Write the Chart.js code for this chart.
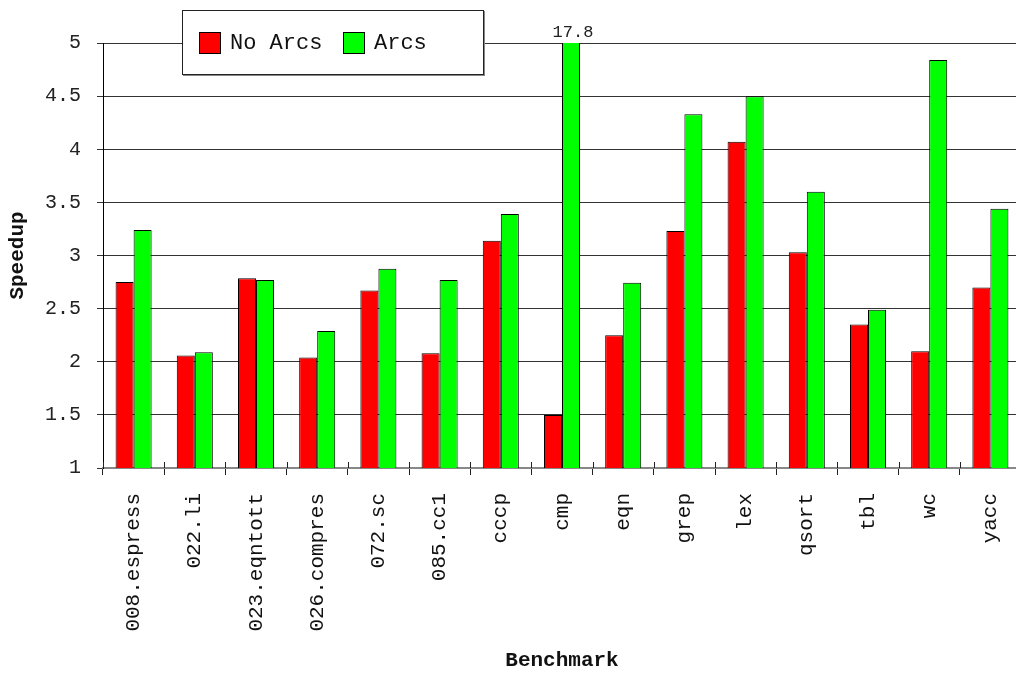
<!DOCTYPE html>
<html>
<head>
<meta charset="utf-8">
<script src="https://cdn.jsdelivr.net/npm/chart.js@4/dist/chart.umd.min.js"></script>
<style>
  html, body { margin: 0; padding: 0; background: #fff; overflow: hidden; width: 1016px; height: 673px; }
  #wrap { position: relative; width: 1021px; height: 673px; }
  #legend { position: absolute; left: 182px; top: 10px; width: 300px; height: 63px; background: #fff;
            border: 1px solid #222; box-shadow: 1px 1px 0 #888; font-family: "Liberation Mono", monospace;
            font-size: 22px; color: #111; }
  .item { position: absolute; top: 20px; height: 24px; display: flex; align-items: center; }
  .sw { width: 22px; height: 22px; border: 1px solid #000; box-sizing: border-box; margin-right: 9px; }
</style>
</head>
<body>
<div id="wrap">
  <canvas id="c" width="1021" height="673"></canvas>
  <div id="legend"></div>
</div>
<script>
const categories = ["008.espress", "022.li", "023.eqntott", "026.compres", "072.sc", "085.cc1",
  "cccp", "cmp", "eqn", "grep", "lex", "qsort", "tbl", "wc", "yacc"];
const noArcs = [2.75, 2.06, 2.785, 2.04, 2.67, 2.08, 3.14, 1.50, 2.25, 3.23, 4.07, 3.03, 2.35, 2.10, 2.70];
const arcs   = [3.24, 2.09, 2.77, 2.29, 2.876, 2.77, 3.39, 17.8, 2.744, 4.33, 4.50, 3.60, 2.49, 4.84, 3.44];
const seriesNames = ["No Arcs", "Arcs"];
const seriesColors = ["#ff0000", "#00ff00"];
const yMin = 1, yMax = 5, yStep = 0.5;

const MONO = '"Liberation Mono", monospace';

const overflowLabels = {
  id: 'overflowLabels',
  afterDatasetsDraw(chart) {
    const ctx = chart.ctx;
    const yScale = chart.scales.y;
    ctx.save();
    ctx.font = '17px ' + MONO;
    ctx.fillStyle = '#222';
    ctx.textAlign = 'center';
    ctx.textBaseline = 'bottom';
    chart.data.datasets.forEach((ds, di) => {
      const meta = chart.getDatasetMeta(di);
      ds.data.forEach((v, i) => {
        if (v > yScale.max) {
          const el = meta.data[i];
          ctx.fillText(String(v), el.x + 2, yScale.getPixelForValue(yScale.max) - 2);
        }
      });
    });
    ctx.restore();
  }
};

const crossTicks = {
  id: 'crossTicks',
  afterDatasetsDraw(chart) {
    const ctx = chart.ctx;
    const x = chart.scales.x;
    const bottom = chart.chartArea.bottom;
    ctx.save();
    ctx.strokeStyle = '#222';
    ctx.lineWidth = 1;
    const half = (x.getPixelForValue(1) - x.getPixelForValue(0)) / 2;
    for (let i = 0; i < categories.length; i++) {
      const px = Math.round(x.getPixelForValue(i) - half) + 0.5;
      ctx.beginPath();
      ctx.moveTo(px, bottom - 6);
      ctx.lineTo(px, bottom);
      ctx.stroke();
    }
    ctx.restore();
  }
};

const chart = new Chart(document.getElementById('c'), {
  type: 'bar',
  data: {
    labels: categories,
    datasets: [
      { label: seriesNames[0], data: noArcs, backgroundColor: seriesColors[0], borderColor: '#000', borderWidth: 1 },
      { label: seriesNames[1], data: arcs, backgroundColor: seriesColors[1], borderColor: '#000', borderWidth: 1 }
    ]
  },
  options: {
    responsive: false,
    animation: false,
    devicePixelRatio: 1,
    layout: { padding: { top: 43, right: 0, left: 0, bottom: 0 } },
    datasets: { bar: { categoryPercentage: 0.589, barPercentage: 1.0 } },
    plugins: { legend: { display: false }, tooltip: { enabled: false } },
    scales: {
      x: {
        offset: true,
        grid: { offset: true, drawOnChartArea: false, tickLength: 7, color: '#222', tickWidth: 1 },
        border: { display: true, color: '#888', width: 2 },
        ticks: { minRotation: 90, maxRotation: 90, autoSkip: false, padding: 18,
                 font: { family: MONO, size: 21 }, color: '#111' },
        title: { display: true, text: 'Benchmark', font: { family: MONO, size: 21, weight: 'bold' },
                 color: '#111', padding: { top: 0, bottom: 0 } },
        afterFit(s) { s.height = 205; s.paddingRight = 0; s.paddingLeft = 0; }
      },
      y: {
        min: yMin, max: yMax,
        ticks: { stepSize: yStep, padding: 16, font: { family: MONO, size: 20 }, color: '#222',
                 callback: (v) => String(Number(v)) },
        grid: { color: '#333', tickLength: 6, lineWidth: 1 },
        border: { display: true, color: '#000', width: 1 },
        title: { display: true, text: 'Speedup', font: { family: MONO, size: 21, weight: 'bold' },
                 color: '#111', padding: { top: 5, bottom: 0 } },
        afterFit(s) { s.width = 103; }
      }
    }
  },
  plugins: [overflowLabels, crossTicks]
});

// legend built from dataset names/colours
const legend = document.getElementById('legend');
const itemLeft = [16, 160];
seriesNames.forEach((name, i) => {
  const it = document.createElement('div');
  it.className = 'item';
  it.style.left = itemLeft[i] + 'px';
  const sw = document.createElement('div');
  sw.className = 'sw';
  sw.style.background = seriesColors[i];
  const t = document.createElement('span');
  t.textContent = name;
  it.appendChild(sw); it.appendChild(t);
  legend.appendChild(it);
});
</script>
</body>
</html>
